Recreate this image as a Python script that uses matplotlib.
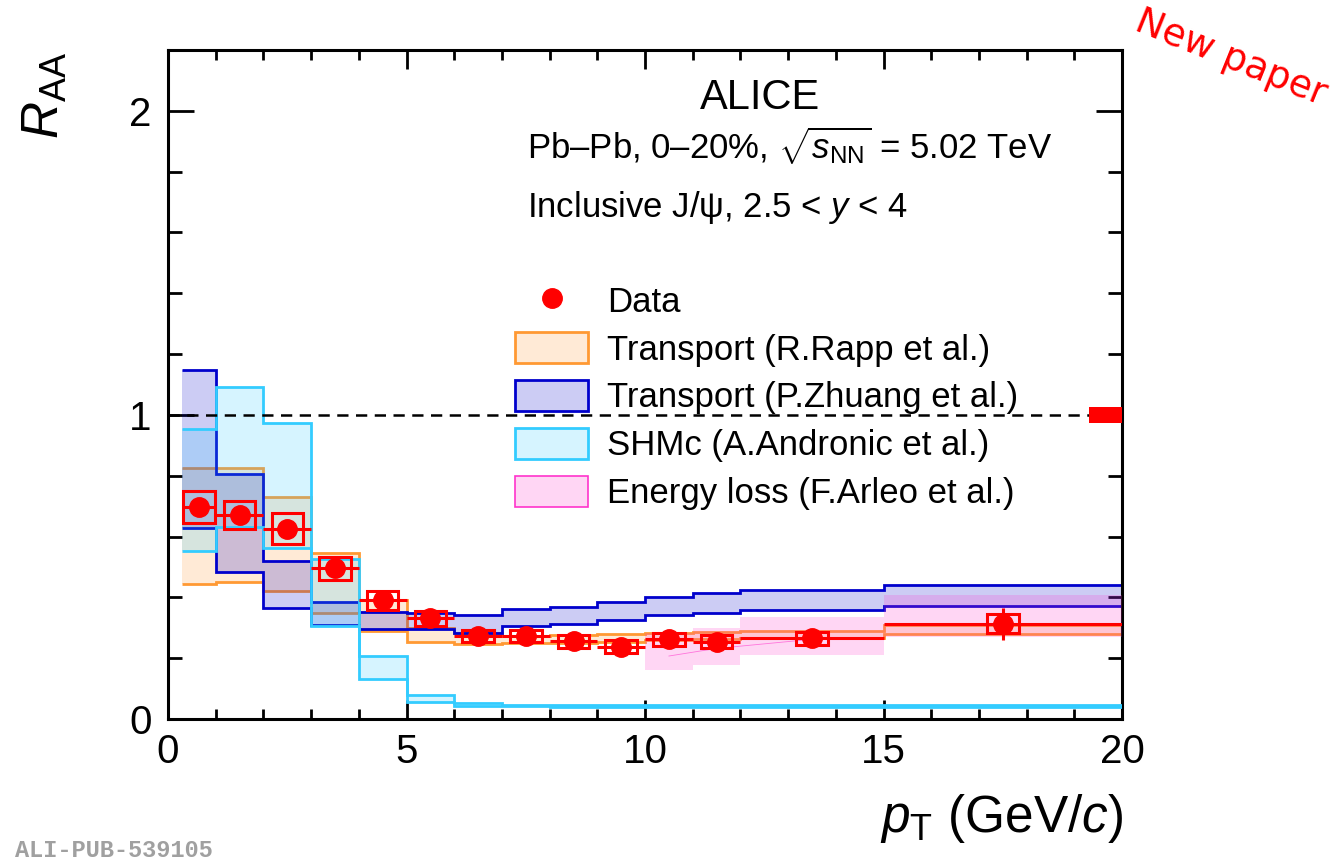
import matplotlib.pyplot as plt
from matplotlib.patches import Rectangle, Patch
from matplotlib.lines import Line2D
from matplotlib.ticker import MultipleLocator

plt.rcParams['font.family'] = ['Liberation Sans', 'DejaVu Sans']
plt.rcParams['mathtext.fontset'] = 'custom'
plt.rcParams['mathtext.rm'] = 'Liberation Sans'
plt.rcParams['mathtext.it'] = 'Liberation Sans:italic'
plt.rcParams['mathtext.bf'] = 'Liberation Sans:bold'

# ALICE data points
pt = [0.65, 1.5, 2.5, 3.5, 4.5, 5.5, 6.5, 7.5, 8.5, 9.5, 10.5, 11.5, 13.5, 17.5]
pt_lo = [0.3, 1, 2, 3, 4, 5, 6, 7, 8, 9, 10, 11, 12, 15]
pt_hi = [1, 2, 3, 4, 5, 6, 7, 8, 9, 10, 11, 12, 15, 20]
raa = [0.697, 0.672, 0.626, 0.495, 0.390, 0.331, 0.273, 0.273, 0.256, 0.238, 0.262, 0.254, 0.265, 0.313]
stat = [0.02, 0.02, 0.02, 0.015, 0.012, 0.01, 0.01, 0.01, 0.01, 0.01, 0.012, 0.012, 0.012, 0.053]
syst = [0.054, 0.046, 0.05, 0.037, 0.031, 0.025, 0.021, 0.021, 0.021, 0.021, 0.021, 0.021, 0.021, 0.031]
norm_unc = 0.026

# model bands
edges = [0.3, 1, 2, 3, 4, 5, 6, 7, 8, 9, 10, 11, 12, 15, 20]
rapp_hi = [0.825, 0.825, 0.73, 0.547, 0.39, 0.30, 0.282, 0.272, 0.276, 0.278, 0.283, 0.287, 0.29, 0.309]
rapp_lo = [0.443, 0.451, 0.42, 0.347, 0.289, 0.254, 0.246, 0.25, 0.251, 0.254, 0.26, 0.262, 0.267, 0.281]
zh_hi = [1.149, 0.807, 0.52, 0.385, 0.352, 0.347, 0.341, 0.363, 0.369, 0.385, 0.402, 0.413, 0.424, 0.44]
zh_lo = [0.628, 0.483, 0.364, 0.31, 0.296, 0.297, 0.283, 0.305, 0.311, 0.325, 0.342, 0.349, 0.358, 0.372]
shm_hi = [0.955, 1.091, 0.973, 0.526, 0.207, 0.079, 0.053, 0.046, 0.045, 0.045, 0.045, 0.045, 0.045, 0.045]
shm_lo = [0.553, 0.631, 0.561, 0.305, 0.132, 0.057, 0.044, 0.041, 0.040, 0.040, 0.040, 0.040, 0.040, 0.040]
arl_edges = [10, 11, 12, 15, 20]
arl_hi = [0.282, 0.298, 0.336, 0.407]
arl_lo = [0.161, 0.177, 0.21, 0.27]
arl_x = [10.5, 11.5, 13.5]
arl_c = [0.207, 0.232, 0.262]

labels = ['Data', 'Transport (R.Rapp et al.)', 'Transport (P.Zhuang et al.)',
          'SHMc (A.Andronic et al.)', 'Energy loss (F.Arleo et al.)']

c_rapp = '#ff9933'
c_zh = '#0000cc'
c_shm = '#33ccff'
c_arl = '#ff33cc'

fig = plt.figure(figsize=(13.39, 8.63), dpi=100)
ax = fig.add_axes([0.1255, 0.1669, 0.7125, 0.7752])


def band(lo, hi, ed, col, outline=True, z=1):
    ax.stairs(hi, ed, baseline=lo, fill=True, facecolor=col, alpha=0.2, lw=0, zorder=z)
    if outline:
        ax.stairs(hi, ed, baseline=None, color=col, lw=2.0, zorder=z)
        ax.stairs(lo, ed, baseline=None, color=col, lw=2.0, zorder=z)


band(rapp_lo, rapp_hi, edges, c_rapp, z=1)
band(zh_lo, zh_hi, edges, c_zh, z=2)
band(shm_lo, shm_hi, edges, c_shm, z=3)
band(arl_lo, arl_hi, arl_edges, c_arl, outline=False, z=4)
ax.plot(arl_x, arl_c, color=c_arl, lw=0.6, alpha=0.6, zorder=4)

# unity line and normalisation box
ax.axhline(1, xmin=0, xmax=0.965, color='black', lw=1.8, dashes=(4.5, 3), zorder=5)
ax.add_patch(Rectangle((19.3, 1 - norm_unc), 0.7, 2 * norm_unc, color='red', lw=0, zorder=8))

# data
xerr = [[p - l for p, l in zip(pt, pt_lo)], [h - p for p, h in zip(pt, pt_hi)]]
ax.errorbar(pt, raa, xerr=xerr, yerr=stat, fmt='o', color='red', ms=14,
            elinewidth=2.2, capsize=0, zorder=10)
for x, y, s in zip(pt, raa, syst):
    ax.add_patch(Rectangle((x - 0.33, y - s), 0.66, 2 * s, fill=False,
                           ec='red', lw=2.2, zorder=9))

ax.set_xlim(0, 20)
ax.set_ylim(0, 2.2)
ax.set_xticks([0, 5, 10, 15, 20])
ax.set_yticks([0, 1, 2])
ax.xaxis.set_minor_locator(MultipleLocator(1))
ax.yaxis.set_minor_locator(MultipleLocator(0.2))
ax.tick_params(which='both', direction='in', top=True, right=True, width=2)
ax.tick_params(axis='x', which='major', length=14, labelsize=29, pad=10)
ax.tick_params(axis='x', which='minor', length=7)
ax.tick_params(axis='y', which='major', length=19, labelsize=29, pad=12)
ax.tick_params(axis='y', which='minor', length=10)
for sp in ax.spines.values():
    sp.set_linewidth(2.2)

# texts
ax.text(12.41, 2.007, 'ALICE', ha='center', va='baseline', fontsize=30)
ax.text(7.53, 1.842, r'Pb–Pb, 0–20%, $\sqrt{s_{\mathrm{NN}}}$ = 5.02 TeV', va='baseline', fontsize=25)
ax.text(7.53, 1.65, r'Inclusive J/ψ, 2.5 < $y$ < 4', va='baseline', fontsize=25)

handles = [Line2D([], [], ls='none', marker='o', color='red', ms=14),
           Patch(facecolor=(1, 0.6, 0.2, 0.2), edgecolor=c_rapp, lw=2),
           Patch(facecolor=(0, 0, 0.8, 0.2), edgecolor=c_zh, lw=2),
           Patch(facecolor=(0.2, 0.8, 1, 0.2), edgecolor=c_shm, lw=2),
           Patch(facecolor=(1, 0.2, 0.8, 0.2), edgecolor=c_arl, lw=1.2)]
ax.legend(handles, labels, loc='upper left', bbox_to_anchor=(0.364, 0.650),
          frameon=False, fontsize=25, handlelength=2.1, handleheight=1.0,
          labelspacing=0.39, handletextpad=0.55, borderpad=0, borderaxespad=0)

fig.text(0.034, 0.94, r'$R_{\mathrm{AA}}$', rotation=90, ha='center', va='top', fontsize=37)
fig.text(0.839, 0.036, r'$p_{\mathrm{T}}$ (GeV/$c$)', ha='right', va='baseline', fontsize=37)
fig.text(0.011, 0.007, 'ALI-PUB-539105', family='Liberation Mono', weight='bold',
         color='#a0a0a0', fontsize=17, va='baseline')
fig.text(0.8462, 0.966, 'New paper', family='DejaVu Sans', color='red', fontsize=27,
         rotation=-22, rotation_mode='anchor', ha='left', va='baseline')

fig.savefig('out.png', dpi=100)
